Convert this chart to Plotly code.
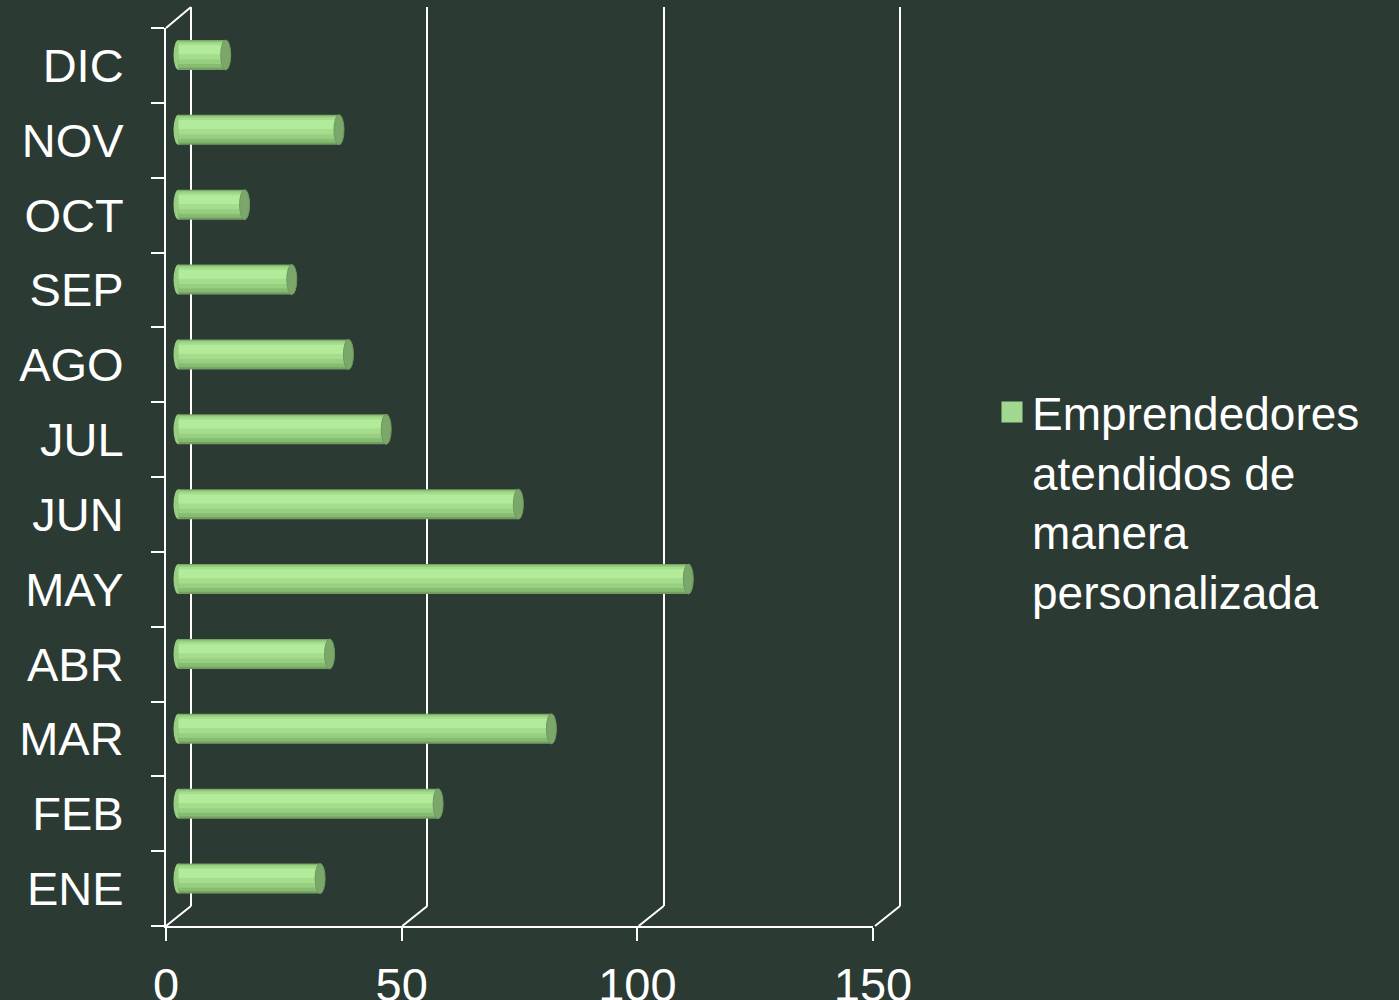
import plotly.graph_objects as go

# ---- data ----
months = ["ENE", "FEB", "MAR", "ABR", "MAY", "JUN", "JUL", "AGO", "SEP", "OCT", "NOV", "DIC"]
values = [30, 55, 79, 32, 108, 72, 44, 36, 24, 14, 34, 10]
series_name = "Emprendedores<br>atendidos de<br>manera<br>personalizada"
x_ticks = [0, 50, 100, 150]

BG = "#2b3a32"
FONT = "Liberation Sans, Arial, sans-serif"
W, H = 1399, 1000

# geometry (paper fractions)
PXU = (873 - 166) / 150.0  # pixels per unit
front_x = [166 / W, 873 / W]
front_y = [1 - 926 / H, 1 - 28 / H]
PAD = 1.0  # range padding on back axis so edge gridlines are kept
back_x = [(191 - PAD * PXU) / W, (900 + PAD * PXU) / W]
back_y = [1 - 906 / H, 1 - 7 / H]
MPAD = 3.0  # padding on the bar axis so cylinder ends are not clipped
mid_x = [((166 + 191) / 2 - MPAD * PXU) / W, ((873 + 900) / 2 + MPAD * PXU) / W]
mid_y = [(front_y[0] + back_y[0]) / 2, (front_y[1] + back_y[1]) / 2]
DX, DY = 25, 20  # depth offset in pixels

fig = go.Figure()

# invisible trace to hold front axes
fig.add_trace(go.Bar(x=[None] * len(months), y=months, orientation="h",
                     xaxis="x", yaxis="y", showlegend=False, hoverinfo="skip"))
# invisible trace for back plane axes
fig.add_trace(go.Scatter(x=[None], y=[None], xaxis="x2", yaxis="y2",
                         showlegend=False, hoverinfo="skip"))

# cylinder-like bars: stacked overlays with different widths
layers = [
    (0.40, -0.20, "#73a062"),
    (0.36, -0.17, "#86bb72"),
    (0.30, -0.12, "#97cf80"),
    (0.22, -0.06, "#a5dd8c"),
    (0.12, 0.01, "#b2ec9a"),
]
for w, off, col in layers:
    fig.add_trace(go.Bar(x=values, y=months, orientation="h", width=w, offset=off,
                         marker=dict(color=col, line=dict(width=0)),
                         xaxis="x3", yaxis="y3", showlegend=False,
                         hovertemplate="%{y}: %{x}<extra></extra>"))

# legend entry
fig.add_trace(go.Scatter(x=[None], y=[None], mode="markers", name=series_name,
                         marker=dict(symbol="square", size=16, color="#a0d890",
                                     line=dict(width=5, color="#a0d890")),
                         xaxis="x3", yaxis="y3", showlegend=True))

shapes = []
# floor diagonals at each x tick
for t in x_ticks:
    if t == x_ticks[0]:
        shapes.append(dict(type="line", xref="x", xsizemode="pixel", xanchor=t, x0=0, x1=DX,
                           yref="y domain", ysizemode="pixel", yanchor=0, y0=0, y1=DY,
                           line=dict(color="white", width=2)))
    else:
        shapes.append(dict(type="line", xref="x2", xsizemode="pixel", xanchor=t, x0=-DX, x1=0,
                           yref="y domain", ysizemode="pixel", yanchor=0, y0=0, y1=DY,
                           line=dict(color="white", width=2)))
# left wall top diagonal
shapes.append(dict(type="line", xref="x domain", xsizemode="pixel", xanchor=0, x0=0, x1=DX,
                   yref="y domain", ysizemode="pixel", yanchor=1, y0=0, y1=DY + 1,
                   line=dict(color="white", width=2)))
# cylinder ends
for m, v in zip(months, values):
    shapes.append(dict(type="circle", xref="x3", xsizemode="pixel", xanchor=0, x0=-5, x1=5,
                       yref="y3", ysizemode="pixel", yanchor=m, y0=-15, y1=15,
                       fillcolor="#98ce82", line=dict(width=0), layer="below"))
    shapes.append(dict(type="circle", xref="x3", xsizemode="pixel", xanchor=v, x0=-5, x1=5,
                       yref="y3", ysizemode="pixel", yanchor=m, y0=-15, y1=15,
                       fillcolor="#7ba86a", line=dict(color="#6e9a5e", width=1), layer="above"))

fig.update_layout(
    width=W, height=H,
    margin=dict(l=0, r=0, t=0, b=0),
    paper_bgcolor=BG, plot_bgcolor="rgba(0,0,0,0)",
    font=dict(family=FONT, color="white", size=47),
    barmode="overlay",
    shapes=shapes,
    showlegend=True,
    legend=dict(x=992 / W, xanchor="left", y=1 - 502 / H, yanchor="middle",
                valign="top", font=dict(size=46, color="white", family=FONT),
                bgcolor="rgba(0,0,0,0)", borderwidth=0),
    xaxis=dict(domain=front_x, range=[0, 150], tickvals=x_ticks, showgrid=False,
               zeroline=False, showline=True, linecolor="white", linewidth=2,
               ticks="outside", ticklen=13, tickwidth=2, tickcolor="white",
               tickfont=dict(size=47, color="white", family=FONT), ticklabelstandoff=4,
               anchor="y", automargin=False, fixedrange=True),
    yaxis=dict(domain=front_y, type="category", categoryorder="array", categoryarray=months,
               showgrid=False, zeroline=False, showline=True, linecolor="white", linewidth=2,
               ticks="outside", ticklen=13, tickwidth=2, tickcolor="white", tickson="boundaries",
               tickfont=dict(size=47, color="white", family=FONT), ticklabelstandoff=31,
               anchor="x", automargin=False, fixedrange=True),
    xaxis2=dict(domain=back_x, range=[-PAD, 150 + PAD], tickvals=x_ticks, showgrid=True,
                gridcolor="white", gridwidth=2, zeroline=False, showline=False,
                showticklabels=False, ticks="", anchor="y2", fixedrange=True),
    yaxis2=dict(domain=back_y, range=[0, 1], showgrid=False, zeroline=False,
                showline=False, showticklabels=False, ticks="", anchor="x2", fixedrange=True),
    xaxis3=dict(domain=mid_x, range=[-MPAD, 150 + MPAD], showgrid=False, zeroline=False,
                showline=False, showticklabels=False, ticks="", anchor="y3", fixedrange=True),
    yaxis3=dict(domain=mid_y, type="category", categoryorder="array", categoryarray=months,
                showgrid=False, zeroline=False, showline=False, showticklabels=False,
                ticks="", anchor="x3", fixedrange=True),
)

fig.write_html("out.html", config={"displayModeBar": False},
               post_script="document.body.style.margin='0px';"
                           "document.body.style.overflow='hidden';"
                           "document.body.style.background='" + BG + "';")
